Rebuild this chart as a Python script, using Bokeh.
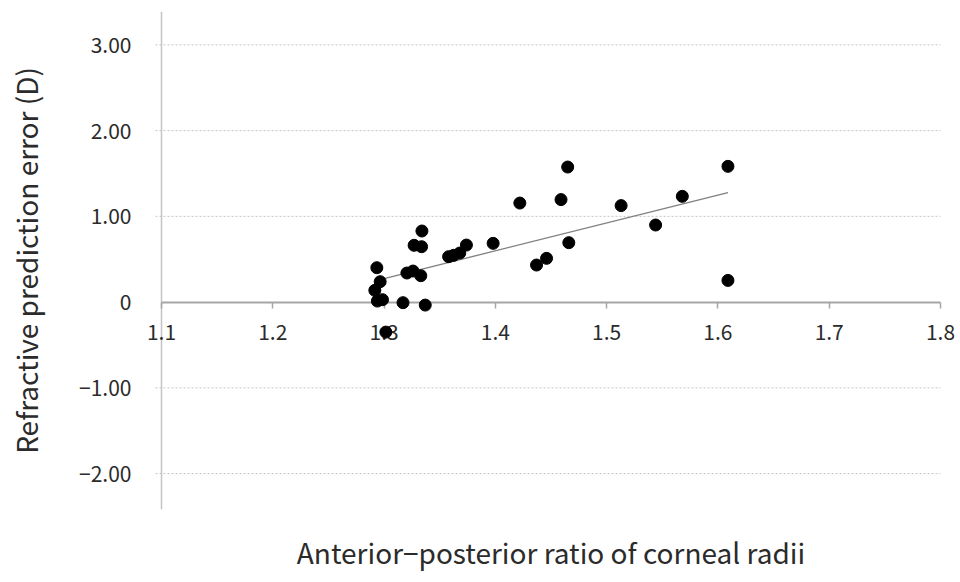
from bokeh.plotting import figure
from bokeh.models import FixedTicker, Range1d, Title, Span
from bokeh.embed import file_html
from bokeh.resources import INLINE

# Data
ratio = [1.465, 1.609, 1.609, 1.568, 1.544, 1.513, 1.459, 1.422, 1.466, 1.446,
         1.437, 1.398, 1.374, 1.368, 1.3625, 1.358, 1.334, 1.3337, 1.327, 1.333,
         1.326, 1.3205, 1.2935, 1.2965, 1.2917, 1.294, 1.2986, 1.317, 1.337, 1.3016]
error = [1.575, 1.583, 0.253, 1.233, 0.899, 1.125, 1.195, 1.155, 0.693, 0.51,
         0.432, 0.685, 0.665, 0.572, 0.545, 0.53, 0.829, 0.646, 0.662, 0.308,
         0.362, 0.339, 0.401, 0.238, 0.137, 0.012, 0.028, -0.007, -0.035, -0.35]
trend_x = [1.300, 1.609]
trend_y = [0.273, 1.277]

x_ticks = [1.1, 1.2, 1.3, 1.4, 1.5, 1.6, 1.7, 1.8]
y_ticks = [-2, -1, 0, 1, 2, 3]
y_tick_labels = {-2: "\u22122.00", -1: "\u22121.00", 0: "0", 1: "1.00", 2: "2.00", 3: "3.00"}
x_title = "Anterior\u2212posterior ratio of corneal radii"
y_title = "Refractive prediction error (D)"

FONT = "Noto Sans CJK KR"
TXT = "#2b2b2b"

X_MIN, X_MAX = x_ticks[0], x_ticks[-1]
FRAME_W = 807
PX = (X_MAX - X_MIN) / 779.0          # data units per pixel along x
PAD = 14 * PX                          # room so that end tick labels are not clipped

p = figure(frame_width=FRAME_W, frame_height=498,
           x_range=Range1d(X_MIN - PAD, X_MAX + PAD),
           y_range=Range1d(-2.419, 3.389),
           output_backend="svg", toolbar_location=None,
           min_border_left=147, min_border_top=11, min_border_right=6,
           min_border_bottom=73)
p.outline_line_color = None
p.background_fill_color = "white"
p.border_fill_color = "white"

# gridlines (drawn as dotted segments from just left of the y axis to x = 1.8)
p.xgrid.grid_line_color = None
p.ygrid.grid_line_color = None
grid_y = [v for v in y_ticks if v != 0]
p.segment(x0=[X_MIN - 6 * PX] * len(grid_y), y0=grid_y,
          x1=[X_MAX] * len(grid_y), y1=grid_y,
          line_color="#c4c4c4", line_width=1, line_dash="2 2", level="underlay")

# vertical axis line at x = 1.1
p.add_layout(Span(location=X_MIN, dimension="height", line_color="#c4c4c4",
                  line_width=1.5, level="underlay"))

# y axis (labels only)
ya = p.yaxis[0]
ya.ticker = FixedTicker(ticks=y_ticks)
ya.major_label_overrides = y_tick_labels
ya.axis_line_color = None
ya.major_tick_line_color = None
ya.minor_tick_line_color = None
ya.major_label_standoff = 10
ya.major_label_text_font = FONT
ya.major_label_text_font_size = "21px"
ya.major_label_text_color = TXT
ya.axis_label = y_title
ya.axis_label_text_font = FONT
ya.axis_label_text_font_size = "28px"
ya.axis_label_text_font_style = "normal"
ya.axis_label_text_color = TXT
ya.axis_label_standoff = 30

# x axis placed at y = 0
xa = p.xaxis[0]
xa.fixed_location = 0
xa.bounds = (X_MIN, X_MAX)
xa.ticker = FixedTicker(ticks=x_ticks)
xa.axis_line_color = "#a6a6a6"
xa.axis_line_width = 2
xa.major_tick_line_color = "#a6a6a6"
xa.major_tick_line_width = 1.5
xa.major_tick_in = 0
xa.major_tick_out = 6
xa.minor_tick_line_color = None
xa.major_label_standoff = 16
xa.major_label_text_font = FONT
xa.major_label_text_font_size = "21px"
xa.major_label_text_color = TXT

t = Title(text=x_title, align="center", text_font=FONT, text_font_size="28px",
          text_font_style="normal", text_color=TXT, standoff=40)
p.add_layout(t, "below")

p.line(trend_x, trend_y, line_color="#7f7f7f", line_width=1.3, level="overlay")
p.scatter(ratio, error, size=12, fill_color="black", line_color="black", level="overlay")

open("out.html", "w").write(file_html(p, INLINE))
